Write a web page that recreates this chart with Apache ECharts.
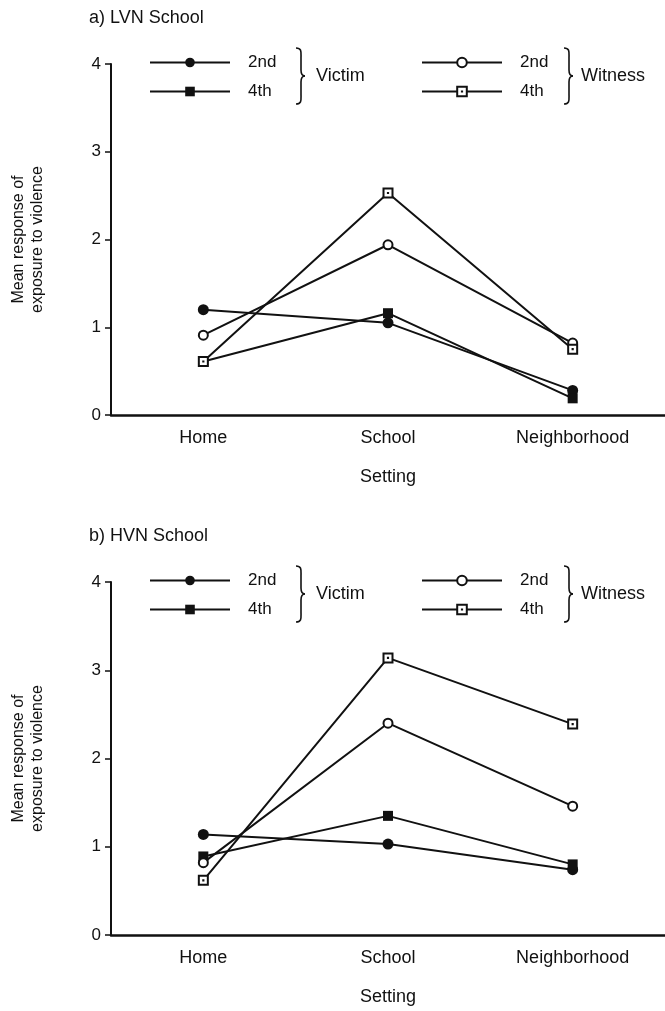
<!DOCTYPE html>
<html>
<head>
<meta charset="utf-8">
<script src="https://cdn.jsdelivr.net/npm/echarts@6/dist/echarts.min.js"></script>
<style>
html,body{margin:0;padding:0;background:#fff;}
#chart{width:665px;height:1011px;}
</style>
</head>
<body>
<div id="chart"></div>
<script>
// ---- data ----
const categories = ['Home', 'School', 'Neighborhood'];
const yTickMin = 0, yTickMax = 4, yTickStep = 1;
const panelTitles = ['a) LVN School', 'b) HVN School'];
const seriesNames = ['Victim 2nd', 'Victim 4th', 'Witness 2nd', 'Witness 4th'];
const groupLabels = ['Victim', 'Witness'];
// panel a) LVN School
const lvnVictim2nd  = [1.20, 1.05, 0.28];
const lvnVictim4th  = [0.61, 1.16, 0.19];
const lvnWitness2nd = [0.91, 1.94, 0.82];
const lvnWitness4th = [0.61, 2.53, 0.75];
// panel b) HVN School
const hvnVictim2nd  = [1.14, 1.03, 0.74];
const hvnVictim4th  = [0.89, 1.35, 0.80];
const hvnWitness2nd = [0.82, 2.40, 1.46];
const hvnWitness4th = [0.62, 3.14, 2.39];

// ---- styling ----
const FONT = 'Liberation Sans';
const INK = '#111';
const openSquarePath = 'path://M0,0L10,0L10,10L0,10Z M4.9,4.9L5.1,4.9L5.1,5.1L4.9,5.1Z';
const styles = {
  'Victim 2nd':  { symbol: 'circle', symbolSize: 11, color: INK, border: INK, bw: 0 },
  'Victim 4th':  { symbol: 'rect', symbolSize: 10, color: INK, border: INK, bw: 0 },
  'Witness 2nd': { symbol: 'circle', symbolSize: 9, color: '#fff', border: INK, bw: 2 },
  'Witness 4th': { symbol: openSquarePath, symbolSize: 9, color: '#fff', border: INK, bw: 2 }
};

const panelData = [
  [lvnVictim2nd, lvnVictim4th, lvnWitness2nd, lvnWitness4th],
  [hvnVictim2nd, hvnVictim4th, hvnWitness2nd, hvnWitness4th]
];

const gridTops = [64, 582];
const gridHeights = [351, 353];

const braceStyle = { stroke: INK, lineWidth: 1.6, fill: null };
function braceElements(x, y0, y1) {
  const m = (y0 + y1) / 2;
  return [
    { type: 'bezierCurve', shape: { x1: x, y1: y0, cpx1: x + 6, cpy1: y0, cpx2: x + 5, cpy2: y0 + 4, x2: x + 5, y2: y0 + 10 }, style: braceStyle },
    { type: 'line', shape: { x1: x + 5, y1: y0 + 10, x2: x + 5, y2: m - 6 }, style: braceStyle },
    { type: 'bezierCurve', shape: { x1: x + 5, y1: m - 6, cpx1: x + 5, cpy1: m - 2, cpx2: x + 7, cpy2: m, x2: x + 9, y2: m }, style: braceStyle },
    { type: 'bezierCurve', shape: { x1: x + 9, y1: m, cpx1: x + 7, cpy1: m, cpx2: x + 5, cpy2: m + 2, x2: x + 5, y2: m + 6 }, style: braceStyle },
    { type: 'line', shape: { x1: x + 5, y1: m + 6, x2: x + 5, y2: y1 - 10 }, style: braceStyle },
    { type: 'bezierCurve', shape: { x1: x + 5, y1: y1 - 10, cpx1: x + 5, cpy1: y1 - 4, cpx2: x + 6, cpy2: y1, x2: x, y2: y1 }, style: braceStyle }
  ];
}

const grids = [], xAxes = [], yAxes = [], series = [], titles = [], legends = [], graphics = [];

gridTops.forEach((top, p) => {
  grids.push({ left: 111, right: 0, top: top, height: gridHeights[p] });
  xAxes.push({
    type: 'category', gridIndex: p, data: categories, boundaryGap: true,
    name: 'Setting', nameLocation: 'middle', nameGap: 53,
    nameTextStyle: { fontFamily: FONT, fontSize: 18, color: INK },
    axisLine: { lineStyle: { color: INK, width: 2.5 } },
    axisTick: { alignWithLabel: true, length: 6, lineStyle: { color: INK, width: 2 } },
    axisLabel: { fontFamily: FONT, fontSize: 18, color: INK, margin: 14 },
    splitLine: { show: false }
  });
  yAxes.push({
    type: 'value', gridIndex: p, min: yTickMin, max: yTickMax, interval: yTickStep,
    name: 'Mean response of\nexposure to violence', nameLocation: 'middle', nameRotate: 90, nameGap: 64,
    nameTextStyle: { fontFamily: FONT, fontSize: 16, color: INK, lineHeight: 19 },
    axisLine: { show: true, lineStyle: { color: INK, width: 2 } },
    axisTick: { show: true, length: 6, lineStyle: { color: INK, width: 1.5 } },
    axisLabel: { fontFamily: FONT, fontSize: 17, color: INK, margin: 10 },
    splitLine: { show: false }
  });
  seriesNames.forEach((nm, i) => {
    const st = styles[nm];
    series.push({
      name: nm, type: 'line', xAxisIndex: p, yAxisIndex: p,
      data: panelData[p][i],
      symbol: st.symbol, symbolSize: st.symbolSize, showAllSymbol: true,
      lineStyle: { color: INK, width: 2 },
      itemStyle: { color: st.color, borderColor: st.border, borderWidth: st.bw, opacity: 1 },
      emphasis: { disabled: true },
      animation: false, z: 2 + i
    });
  });
  titles.push({
    text: panelTitles[p], left: 84, top: top - 60,
    textStyle: { fontFamily: FONT, fontSize: 18, fontWeight: 'normal', color: INK }
  });
  const legendCommon = {
    orient: 'vertical', top: top - 15, itemWidth: 80, itemHeight: 12, itemGap: 12,
    selectedMode: false,
    formatter: (name) => name.split(' ')[1],
    textStyle: { fontFamily: FONT, fontSize: 17, color: INK, padding: [0, 0, 0, 13] }
  };
  legends.push(Object.assign({}, legendCommon, { left: 144, data: ['Victim 2nd', 'Victim 4th'] }));
  legends.push(Object.assign({}, legendCommon, { left: 416, data: ['Witness 2nd', 'Witness 4th'] }));
  // braces and group labels
  const by0 = top - 16, by1 = top + 40;
  braceElements(296, by0, by1).forEach(e => graphics.push(e));
  braceElements(564, by0, by1).forEach(e => graphics.push(e));
  graphics.push({ type: 'text', x: 316, y: (by0 + by1) / 2,
    style: { text: groupLabels[0], font: '18px "' + FONT + '"', fill: INK, verticalAlign: 'middle' } });
  graphics.push({ type: 'text', x: 581, y: (by0 + by1) / 2,
    style: { text: groupLabels[1], font: '18px "' + FONT + '"', fill: INK, verticalAlign: 'middle' } });
});

const chart = echarts.init(document.getElementById('chart'), null, { renderer: 'canvas' });
chart.setOption({
  backgroundColor: '#fff',
  animation: false,
  title: titles,
  legend: legends,
  grid: grids,
  xAxis: xAxes,
  yAxis: yAxes,
  series: series,
  graphic: graphics,
  tooltip: { show: false }
});
</script>
</body>
</html>
